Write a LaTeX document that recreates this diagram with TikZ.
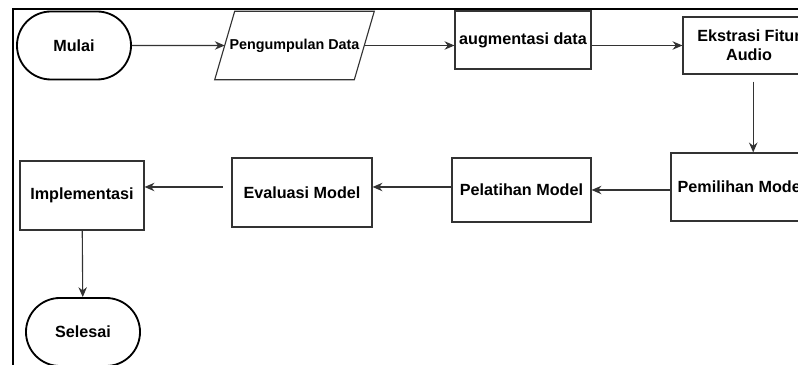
\documentclass[tikz,border=0pt]{standalone}
\usepackage{fontspec}
\setmainfont{Liberation Sans}
\usepackage{xcolor}
\usetikzlibrary{shapes,arrows.meta,positioning}

\definecolor{garis}{HTML}{333333}

\begin{document}
\begin{tikzpicture}[x=0.025cm,y=-0.025cm,>={Stealth[length=7pt,width=6pt]},
  font=\fontsize{11.5}{13.5}\selectfont\bfseries,
  terminal/.style={draw=black,line width=1.3pt,rounded rectangle,minimum width=2.85cm,minimum height=1.7cm,inner sep=0pt},
  proses/.style={draw=garis,line width=0.8pt,rectangle,inner sep=0pt,align=center},
  masukan/.style={rectangle,minimum width=3.475cm,minimum height=1.7cm,inner sep=0pt},
  panah/.style={->,draw=garis,line width=0.8pt}]

\useasboundingbox (0,0) rectangle (798,365);
\clip (0,0) rectangle (798,365);

% bingkai
\draw[line width=1.6pt] (13,366) -- (13,9) -- (799,9);

% baris atas
\node[terminal] (mulai) at (74,45.5) {Mulai};
\node[masukan] (kumpul) at (294.5,45.5) {\fontsize{10.2}{12}\selectfont Pengumpulan Data};
\draw[garis,line width=0.8pt] ([xshift=-0.25cm]kumpul.south west) -- ([xshift=0.25cm]kumpul.north west)
  -- ([xshift=0.25cm]kumpul.north east) -- ([xshift=-0.25cm]kumpul.south east) -- cycle;
\node[proses,minimum width=3.4cm,minimum height=1.45cm] (augmen) at (523,40) {augmentasi data};
\node[proses,minimum width=3.3cm,minimum height=1.425cm] (ekstrasi) at (749,45.5) {Ekstrasi Fitur\\Audio};

% baris tengah
\node[proses,minimum width=3.525cm,minimum height=1.7cm] (pemilihan) at (741.5,187) {Pemilihan Model};
\node[proses,minimum width=3.475cm,minimum height=1.6cm] (pelatihan) at (521.5,190) {Pelatihan Model};
\node[proses,minimum width=3.5cm,minimum height=1.725cm] (evaluasi) at (302,192.5) {Evaluasi Model};
\node[proses,minimum width=3.1cm,minimum height=1.725cm] (implementasi) at (82,195.5) {Implementasi};

% akhir
\node[terminal] (selesai) at (83,332) {Selesai};

% panah
\draw[panah] (mulai) -- (kumpul.west);
\draw[panah] (kumpul.east) -- (kumpul -| augmen.west);
\draw[panah] (augmen.east |- ekstrasi) -- (ekstrasi);
\draw[panah] ([xshift=3pt,yshift=-5pt]ekstrasi.south) -- ([xshift=3pt]ekstrasi.south |- pemilihan.north);
\draw[panah] (pemilihan.west |- pelatihan) -- (pelatihan);
\draw[panah] (pelatihan.west |- 0,187) -- (evaluasi.east |- 0,187);
\draw[panah] ([xshift=-6pt]evaluasi.west |- 0,187) -- (implementasi.east |- 0,187);
\draw[panah] (implementasi) -- (selesai);

\end{tikzpicture}
\end{document}
